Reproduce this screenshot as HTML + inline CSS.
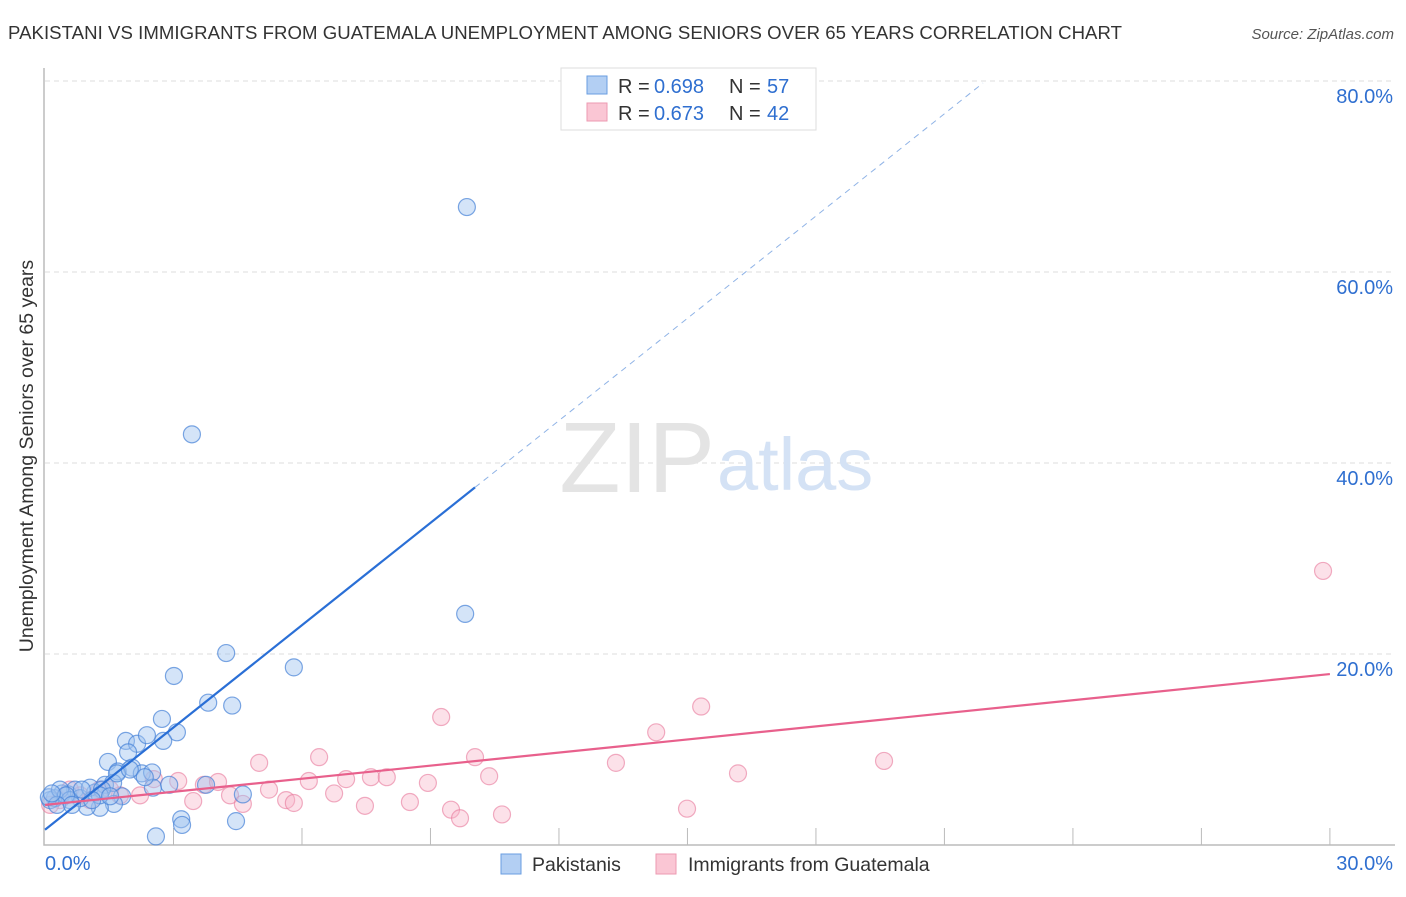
<!DOCTYPE html>
<html><head><meta charset="utf-8"><style>
body{margin:0;background:#fff;font-family:"Liberation Sans",sans-serif;}
svg text{font-family:"Liberation Sans",sans-serif;}
</style></head><body>
<svg id="chart" width="1406" height="892">
<text x="8" y="39" font-size="18.6" fill="#333" textLength="1114">PAKISTANI VS IMMIGRANTS FROM GUATEMALA UNEMPLOYMENT AMONG SENIORS OVER 65 YEARS CORRELATION CHART</text>
<text x="1394" y="39" font-size="15" fill="#555" font-style="italic" text-anchor="end">Source: ZipAtlas.com</text>
<text x="33" y="456" font-size="19.5" fill="#333" text-anchor="middle" transform="rotate(-90 33 456)">Unemployment Among Seniors over 65 years</text>
<g id="grid"></g><g id="ticks"></g>
<text x="715" y="492" font-size="100" fill="#e4e4e4" text-anchor="end" font-family="Liberation Serif">ZIP</text>
<text x="717" y="490" font-size="74" fill="#d4e2f5">atlas</text>
<g id="marks"></g>
<g>
<rect x="561" y="68" width="255" height="62" fill="#fff" stroke="#ddd"/>
<rect x="587" y="76" width="20" height="18" fill="#b3cff3" stroke="#6a9ee0"/>
<rect x="587" y="103" width="20" height="18" fill="#fac6d4" stroke="#ec9ab2"/>
<text y="93" font-size="20" fill="#333"><tspan x="618">R =</tspan><tspan x="654" fill="#2f6fd0">0.698</tspan><tspan x="729">N =</tspan><tspan x="767" fill="#2f6fd0">57</tspan></text>
<text y="120" font-size="20" fill="#333"><tspan x="618">R =</tspan><tspan x="654" fill="#2f6fd0">0.673</tspan><tspan x="729">N =</tspan><tspan x="767" fill="#2f6fd0">42</tspan></text>
</g>
<rect x="501" y="854" width="20" height="20" fill="#b3cff3" stroke="#6a9ee0"/>
<text x="532" y="871" font-size="19.5" fill="#333">Pakistanis</text>
<rect x="656" y="854" width="20" height="20" fill="#fac6d4" stroke="#ec9ab2"/>
<text x="688" y="871" font-size="19.5" fill="#333">Immigrants from Guatemala</text>
</svg>
<script>
const yTicks=[20,40,60,80];
const yTickLabels=["20.0%","40.0%","60.0%","80.0%"];
const xTicks=[3,6,9,12,15,18,21,24,27,30];
const pakX=[9.85,3.43,9.81,5.81,4.23,3.01,3.81,4.37,2.73,3.08,2.76,1.89,2.15,2.38,1.47,1.94,1.70,2.03,2.26,2.50,2.52,2.90,3.76,4.62,1.80,1.61,1.28,0.98,0.54,0.70,0.40,0.23,0.12,0.09,0.35,0.82,1.17,1.40,1.59,1.05,0.58,1.68,1.33,3.18,3.20,2.59,4.46,1.28,0.49,1.10,0.86,0.28,1.98,2.33,1.52,0.63,0.16];
const pakY=[66.8,43.0,24.2,18.6,20.1,17.7,14.9,14.6,13.2,11.8,10.9,10.9,10.6,11.5,8.7,9.7,7.7,8.1,7.5,7.6,6.0,6.3,6.3,5.3,5.1,4.3,3.9,4.0,5.3,5.8,5.4,4.9,4.7,5.0,5.8,4.9,5.5,6.3,6.5,6.0,4.7,7.5,5.8,2.7,2.1,0.9,2.5,5.2,5.2,4.7,5.8,4.2,7.9,7.1,5.1,4.2,5.4];
const guaX=[29.84,15.32,9.25,14.27,19.59,10.04,6.40,5.00,13.33,16.18,10.37,7.03,7.61,7.98,3.11,3.71,4.04,6.16,8.94,5.23,6.75,2.54,4.32,5.63,5.81,7.47,8.52,9.48,9.69,10.67,14.99,3.46,4.62,2.22,1.75,1.28,0.82,0.35,0.12,0.58,1.05,1.52];
const guaY=[28.7,14.5,13.4,11.8,8.8,9.2,9.2,8.6,8.6,7.5,7.2,6.9,7.1,7.1,6.7,6.3,6.6,6.7,6.5,5.8,5.4,6.9,5.2,4.7,4.4,4.1,4.5,3.7,2.8,3.2,3.8,4.6,4.3,5.2,5.2,5.8,5.2,4.7,4.2,5.8,4.7,5.8];
const pakTrend=[1.6,3.57,10.04,21.9];
const guaTrend=[4.2,17.9];
const NS="http://www.w3.org/2000/svg";
const X=v=>45+v*42.83, Y=v=>845-v*9.55;
function mk(p,t,a){const e=document.createElementNS(NS,t);for(const k in a)e.setAttribute(k,a[k]);p.appendChild(e);return e;}
const grid=document.getElementById('grid'),ticks=document.getElementById('ticks'),marks=document.getElementById('marks');
yTicks.forEach((v,i)=>{
const l=mk(grid,'line',{x1:45,x2:1395,y1:Y(v),y2:Y(v),stroke:'#ddd','stroke-dasharray':'5,4'});


const t=mk(grid,'text',{x:1393,y:Y(v)+22,'font-size':20,fill:'#2f6fd0','text-anchor':'end'});
t.textContent=yTickLabels[i];


});
const ax=mk(ticks,'path',{d:'M44 68V845H1395',fill:'none',stroke:'#bbb','stroke-width':1.5});


xTicks.forEach(v=>{
const l=mk(ticks,'line',{x1:X(v),x2:X(v),y1:828,y2:845,stroke:'#bbb'});


});
const x0=mk(ticks,'text',{x:45,y:870,'font-size':20,fill:'#2f6fd0'});x0.textContent='0.0%';


const x1=mk(ticks,'text',{x:1393,y:870,'font-size':20,fill:'#2f6fd0','text-anchor':'end'});x1.textContent='30.0%';


guaX.forEach((v,i)=>{
const c=mk(marks,'circle',{cx:X(v),cy:Y(guaY[i]),r:8.5,fill:'rgba(248,180,200,0.4)',stroke:'rgba(232,120,155,0.6)','stroke-width':1.2});


});
pakX.forEach((v,i)=>{
const c=mk(marks,'circle',{cx:X(v),cy:Y(pakY[i]),r:8.5,fill:'rgba(160,196,240,0.45)',stroke:'rgba(70,130,215,0.7)','stroke-width':1.2});


});
const [b0,bs,bEnd,bDash]=pakTrend;
const tl=mk(marks,'line',{x1:X(0),y1:Y(b0),x2:X(bEnd),y2:Y(b0+bs*bEnd),stroke:'#2a6fd6','stroke-width':2.2});


const td=mk(marks,'line',{x1:X(bEnd),y1:Y(b0+bs*bEnd),x2:X(bDash),y2:Y(b0+bs*bDash),stroke:'#8fb3e6','stroke-width':1,'stroke-dasharray':'6,5'});


const gl=mk(marks,'line',{x1:X(0),y1:Y(guaTrend[0]),x2:X(30),y2:Y(guaTrend[1]),stroke:'#e8608c','stroke-width':2.2});


</script>
</body></html>
